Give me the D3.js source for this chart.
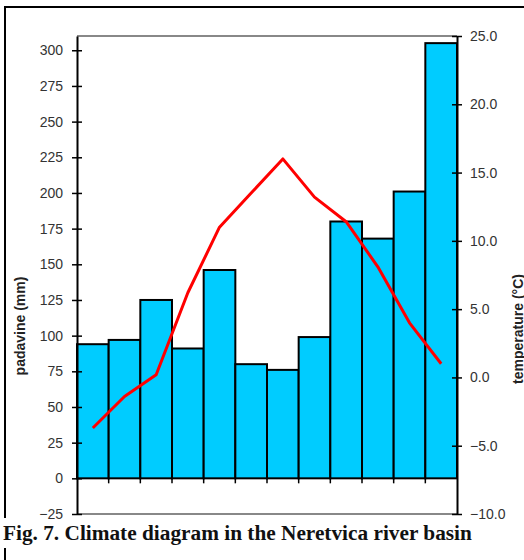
<!DOCTYPE html>
<head>
    <style>
    body { margin: 0; background: #fff; }
    .tick text { font-family: "Liberation Sans", Arial, sans-serif; font-size: 14px; fill: #333; }
    .axis-title { font-family: "Liberation Sans", Arial, sans-serif; font-size: 14px; font-weight: bold; fill: #222; }
    .caption { font-family: "Liberation Serif", "Times New Roman", serif; font-size: 21.3px; font-weight: bold; fill: #111; }
    .bar { fill: #00ccff; stroke: #000; stroke-width: 2; }
    .temp { fill: none; stroke: #ff0000; stroke-width: 3; stroke-linejoin: round; }
    </style>
    <script src="https://d3js.org/d3.v7.min.js"></script>
</head>
<body>
    <svg width="524" height="560"></svg>
    <script>

    var months = ["I", "II", "III", "IV", "V", "VI", "VII", "VIII", "IX", "X", "XI", "XII"];
    var precip = [94, 97, 125, 91, 146, 80, 76, 99, 180, 168, 201, 305];
    var temp = [-3.7, -1.4, 0.2, 6.2, 11.0, 13.5, 16.0, 13.2, 11.4, 8.1, 4.0, 1.0];
    var precipTicks = [-25, 0, 25, 50, 75, 100, 125, 150, 175, 200, 225, 250, 275, 300];
    var tempTicks = [-10, -5, 0, 5, 10, 15, 20, 25];

    var svg = d3.select("svg");

    var plotLeft = 77, plotRight = 457, plotTop = 36, plotBottom = 514;

    var x = d3.scaleBand().domain(months).range([plotLeft, plotRight]).padding(0);
    var yL = d3.scaleLinear().domain([-25, 310]).range([plotBottom, plotTop]);
    var yR = d3.scaleLinear().domain([-10, 25]).range([plotBottom, plotTop]);

    // outer frame
    svg.append("line").attr("x1", 5).attr("x2", 524).attr("y1", 7).attr("y2", 7)
        .attr("stroke", "#000").attr("stroke-width", 2);
    svg.append("line").attr("x1", 5).attr("x2", 5).attr("y1", 6).attr("y2", 518)
        .attr("stroke", "#000").attr("stroke-width", 2);
    svg.append("line").attr("x1", 5).attr("x2", 5).attr("y1", 548).attr("y2", 560)
        .attr("stroke", "#000").attr("stroke-width", 2);

    // grey top / bottom of plot area
    svg.append("line").attr("x1", plotLeft).attr("x2", plotRight).attr("y1", plotTop).attr("y2", plotTop)
        .attr("stroke", "#888").attr("stroke-width", 2);
    svg.append("line").attr("x1", plotLeft).attr("x2", plotRight).attr("y1", plotBottom).attr("y2", plotBottom)
        .attr("stroke", "#888").attr("stroke-width", 2);

    // bars
    svg.append("g").selectAll("rect")
        .data(precip)
      .enter().append("rect")
        .attr("class", "bar")
        .attr("x", function(d, i) { return x(months[i]); })
        .attr("width", x.bandwidth())
        .attr("y", function(d) { return yL(d); })
        .attr("height", function(d) { return yL(0) - yL(d); });

    // month ticks under the zero line
    svg.append("g").selectAll("line")
        .data(months.slice(1))
      .enter().append("line")
        .attr("x1", function(d) { return x(d); })
        .attr("x2", function(d) { return x(d); })
        .attr("y1", yL(0))
        .attr("y2", yL(0) + 5)
        .attr("stroke", "#000").attr("stroke-width", 1.5);

    // temperature line
    var line = d3.line()
        .x(function(d, i) { return x(months[i]) + x.bandwidth() / 2; })
        .y(function(d) { return yR(d); });

    svg.append("path")
        .datum(temp)
        .attr("class", "temp")
        .attr("d", line);

    // left axis
    var gL = svg.append("g")
        .attr("transform", "translate(" + plotLeft + ",0)")
        .call(d3.axisLeft(yL).tickValues(precipTicks).tickSize(5).tickSizeOuter(0).tickPadding(9));
    gL.select(".domain").attr("stroke", "#000").attr("stroke-width", 2);
    gL.selectAll(".tick line").attr("x2", 5).attr("x1", -5).attr("stroke", "#000").attr("stroke-width", 1.5);

    // right axis
    var gR = svg.append("g")
        .attr("transform", "translate(" + plotRight + ",0)")
        .call(d3.axisRight(yR).tickValues(tempTicks).tickFormat(d3.format(".1f"))
            .tickSize(5).tickSizeOuter(0).tickPadding(8));
    gR.select(".domain").attr("stroke", "#000").attr("stroke-width", 2);
    gR.selectAll(".tick line").attr("x1", -5).attr("x2", 5).attr("stroke", "#000").attr("stroke-width", 1.5);

    // axis titles
    svg.append("text")
        .attr("class", "axis-title")
        .attr("transform", "translate(25,326) rotate(-90)")
        .attr("text-anchor", "middle")
        .text("padavine (mm)");

    // cut off by the right edge, as in the original
    svg.append("text")
        .attr("class", "axis-title")
        .attr("transform", "translate(523,329) rotate(-90)")
        .attr("text-anchor", "middle")
        .text("temperature (°C)");

    // caption
    svg.append("text")
        .attr("class", "caption")
        .attr("x", 3)
        .attr("y", 540)
        .text("Fig. 7. Climate diagram in the Neretvica river basin");

    </script>
</body>
